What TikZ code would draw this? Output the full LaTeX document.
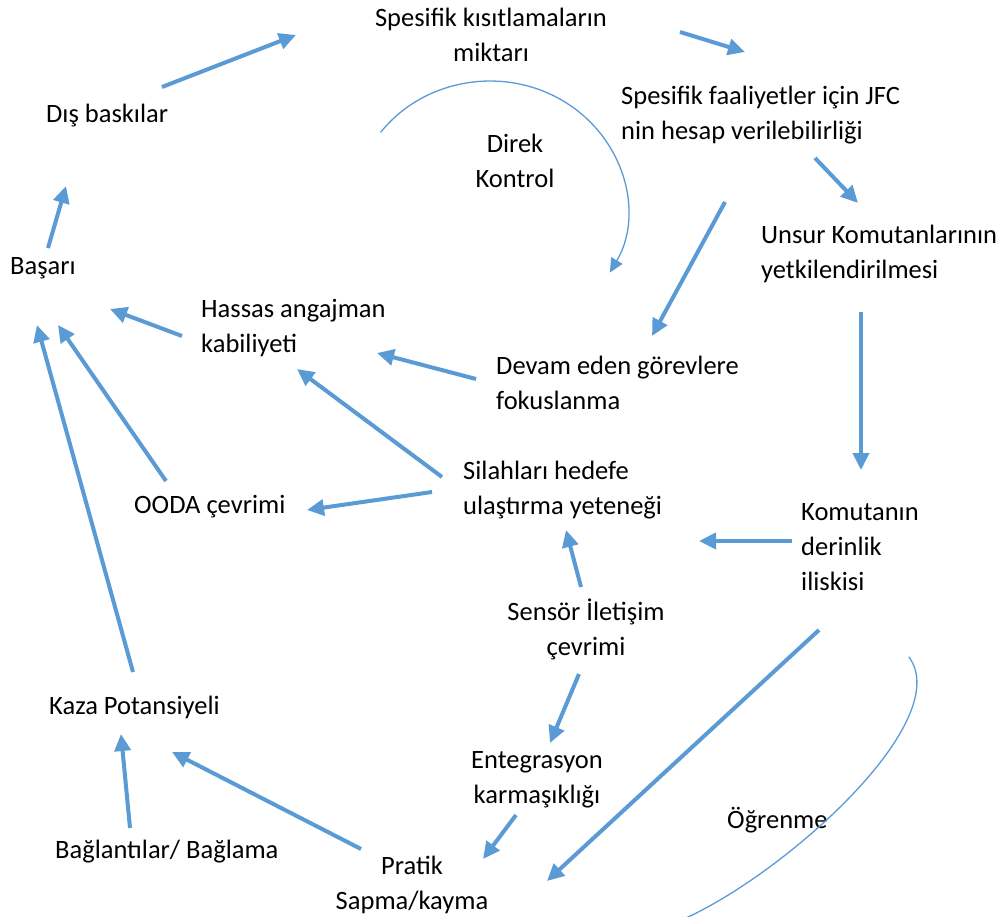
\documentclass[tikz,border=0pt]{standalone}
\usepackage{fontspec}
\setmainfont{Carlito}
\usetikzlibrary{arrows.meta}
\definecolor{flow}{HTML}{5B9BD5}
\tikzset{
  lbl/.style={inner sep=0pt, font={\fontsize{26.5}{35}\selectfont}, text=black},
  % base anchor sits on the last line of a multi-line label
  lblw/.style={lbl, anchor=base west, align=left},
  lblc/.style={lbl, anchor=base, align=center},
  link/.style={draw=flow, line width=4pt, -{Triangle[length=17pt,width=16pt]}},
  loop/.style={draw=flow, line width=1.3pt},
}
\begin{document}
\begin{tikzpicture}[x=1pt,y=-1pt]
\useasboundingbox (0,0) rectangle (1001,917);
\fill[white] (0,0) rectangle (1001,917);

% factors
\node[lblc] (kis)    at (491,62)  {Spesifik kısıtlamaların\\miktarı};
\node[lblw] (dis)    at (46,123)  {Dış baskılar};
\node[lblc] (direk)  at (515,188) {Direk\\Kontrol};
\node[lblw] (jfc)    at (621,140) {Spesifik faaliyetler için JFC\\nin hesap verilebilirliği};
\node[lblw] (basari) at (10,275)  {Başarı};
\node[lblw] (unsur)  at (761,279) {Unsur Komutanlarının\\yetkilendirilmesi};
\node[lblw] (hassas) at (201,352) {Hassas angajman\\kabiliyeti};
\node[lblw] (devam)  at (496,409) {Devam eden görevlere\\fokuslanma};
\node[lblw] (silah)  at (463,514) {Silahları hedefe\\ulaştırma yeteneği};
\node[lblw] (ooda)   at (134,513) {OODA çevrimi};
\node[lblw] (komut)  at (801,590) {Komutanın\\derinlik\\iliskisi};
\node[lblc] (sensor) at (586,655) {Sensör İletişim\\çevrimi};
\node[lblw] (kaza)   at (49,714)  {Kaza Potansiyeli};
\node[lblc] (entg)   at (537,803) {Entegrasyon\\karmaşıklığı};
\node[lblw] (ogren)  at (727,828) {Öğrenme};
\node[lblw] (bag)    at (55,858)  {Bağlantılar/ Bağlama};
\node[lblc] (pratik) at (412,909) {Pratik\\Sapma/kayma};

% arrow ends
\coordinate (dis-o)    at (162,87);  \coordinate (kis-i)    at (296,35);
\coordinate (kis-o)    at (680,32);  \coordinate (jfc-i)    at (745,52);
\coordinate (jfc-o1)   at (815,158); \coordinate (unsur-i)  at (858,203);
\coordinate (jfc-o2)   at (725,202); \coordinate (devam-i)  at (652,336);
\coordinate (basari-o) at (48,248);  \coordinate (dis-i)    at (66,186);
\coordinate (hassas-o) at (182,336); \coordinate (basari-i1) at (110,309);
\coordinate (devam-o)  at (476,379); \coordinate (hassas-i1) at (377,353);
\coordinate (unsur-o)  at (861,312); \coordinate (komut-i)  at (861,470);
\coordinate (silah-o1) at (442,477); \coordinate (hassas-i2) at (297,369);
\coordinate (silah-o2) at (432,492); \coordinate (ooda-i)   at (307,510);
\coordinate (ooda-o)   at (166,481); \coordinate (basari-i2) at (58,325);
\coordinate (kaza-o)   at (133,672); \coordinate (basari-i3) at (37,325);
\coordinate (komut-o1) at (792,541); \coordinate (silah-i1) at (699,541);
\coordinate (sensor-o1) at (581,587); \coordinate (silah-i2) at (566,530);
\coordinate (sensor-o2) at (579,674); \coordinate (entg-i)  at (550,743);
\coordinate (komut-o2) at (819,630); \coordinate (pratik-i1) at (547,881);
\coordinate (entg-o)   at (516,815); \coordinate (pratik-i2) at (483,859);
\coordinate (pratik-o) at (361,849); \coordinate (kaza-i1)  at (172,752);
\coordinate (bag-o)    at (130,828); \coordinate (kaza-i2)  at (121,734);

% causal links
\draw[link] (dis-o) -- (kis-i);
\draw[link] (kis-o) -- (jfc-i);
\draw[link] (jfc-o1) -- (unsur-i);
\draw[link] (jfc-o2) -- (devam-i);
\draw[link] (basari-o) -- (dis-i);
\draw[link] (hassas-o) -- (basari-i1);
\draw[link] (devam-o) -- (hassas-i1);
\draw[link] (unsur-o) -- (komut-i);
\draw[link] (silah-o1) -- (hassas-i2);
\draw[link] (silah-o2) -- (ooda-i);
\draw[link] (ooda-o) -- (basari-i2);
\draw[link] (kaza-o) -- (basari-i3);
\draw[link] (komut-o1) -- (silah-i1);
\draw[link] (sensor-o1) -- (silah-i2);
\draw[link] (sensor-o2) -- (entg-i);
\draw[link] (komut-o2) -- (pratik-i1);
\draw[link] (entg-o) -- (pratik-i2);
\draw[link] (pratik-o) -- (kaza-i1);
\draw[link] (bag-o) -- (kaza-i2);

% feedback loops
\coordinate (dk-start) at (380.6,132.4);
\draw[loop, -{Triangle[length=14pt,width=13pt]}] (dk-start) arc[start angle=-143, end angle=29, x radius=137, y radius=129];
\coordinate (og-start) at (909,657);
\coordinate (og-end) at (686,918);
\draw[loop] (og-start) .. controls (955,720) and (790,870) .. (og-end);
\end{tikzpicture}
\end{document}
